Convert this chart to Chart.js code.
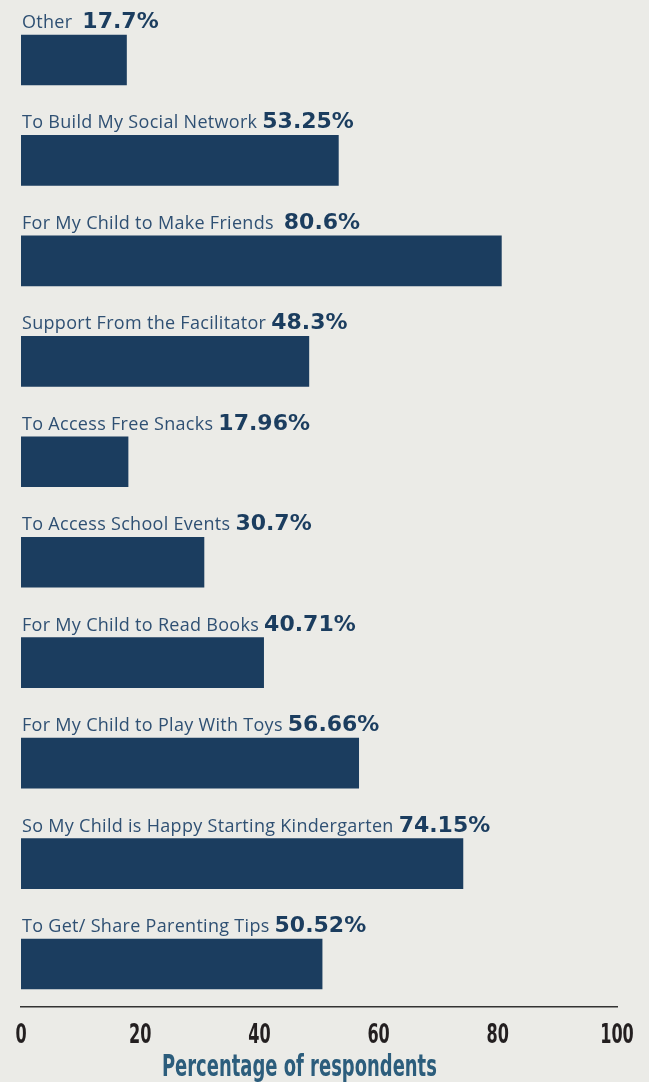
<!DOCTYPE html>
<html>
<head>
<meta charset="utf-8">
<script src="https://cdn.jsdelivr.net/npm/chart.js@4"></script>
<style>
  html, body { margin: 0; padding: 0; background: #ebebe7; }
  #wrap { width: 649px; height: 1082px; position: relative; }
</style>
</head>
<body>
<div id="wrap"><canvas id="c" width="649" height="1082"></canvas></div>
<script>
// Reasons for attending, top to bottom
const categories = [
  'Other ',
  'To Build My Social Network',
  'For My Child to Make Friends ',
  'Support From the Facilitator',
  'To Access Free Snacks',
  'To Access School Events',
  'For My Child to Read Books',
  'For My Child to Play With Toys',
  'So My Child is Happy Starting Kindergarten',
  'To Get/ Share Parenting Tips'
];
const percentLabels = ['17.7%', '53.25%', '80.6%', '48.3%', '17.96%', '30.7%', '40.71%', '56.66%', '74.15%', '50.52%'];
const values = [17.7, 53.25, 80.6, 48.3, 17.96, 30.7, 40.71, 56.66, 74.15, 50.52];
const xTicks = [0, 20, 40, 60, 80, 100];
const xTitle = 'Percentage of respondents';

const BAR = '#1b3d5f';
const CONDENSED = '"DejaVu Sans Condensed", "DejaVu Sans"';

// Category name + bold percentage written above each bar
const barLabels = {
  id: 'barLabels',
  afterDatasetsDraw(chart) {
    const ctx = chart.ctx;
    const meta = chart.getDatasetMeta(0);
    const x0 = chart.scales.x.getPixelForValue(0) + 1;
    ctx.save();
    ctx.textBaseline = 'alphabetic';
    ctx.textAlign = 'left';
    meta.data.forEach((el, i) => {
      const top = el.y - el.height / 2;
      const baseY = top - 7;
      ctx.font = '18px "Open Sans"';
      ctx.letterSpacing = '0.3px';
      ctx.fillStyle = '#2f5073';
      const txt = categories[i] + ' ';
      ctx.fillText(txt, x0, baseY);
      const w = ctx.measureText(txt).width;
      ctx.letterSpacing = '0px';
      ctx.font = 'bold 22px "DejaVu Sans"';
      ctx.fillStyle = BAR;
      ctx.fillText(percentLabels[i], x0 + w, baseY);
    });
    ctx.restore();
  }
};

// Narrow tall tick numbers and axis title under the x axis
const condensedAxis = {
  id: 'condensedAxis',
  afterDraw(chart) {
    const ctx = chart.ctx;
    const xs = chart.scales.x;
    const bottom = chart.chartArea.bottom;
    ctx.save();
    ctx.textBaseline = 'alphabetic';
    ctx.textAlign = 'center';
    ctx.font = 'bold 27px ' + CONDENSED;
    const sx = 11.2 / ctx.measureText('0').width;
    ctx.fillStyle = '#231f20';
    xs.ticks.forEach(t => {
      const px = xs.getPixelForValue(t.value);
      ctx.save();
      ctx.translate(px, bottom + 35.5);
      ctx.scale(sx, 1);
      ctx.fillText(String(t.value), 0, 0);
      ctx.restore();
    });
    ctx.font = 'bold 30px ' + CONDENSED;
    const tw = ctx.measureText(xTitle).width;
    const st = 275 / tw;
    ctx.fillStyle = '#2c5d7c';
    ctx.translate((xs.left + xs.right) / 2 - 19.6, bottom + 69);
    ctx.scale(st, 1);
    ctx.fillText(xTitle, 0, 0);
    ctx.restore();
  }
};

new Chart(document.getElementById('c'), {
  type: 'bar',
  data: {
    datasets: [{
      data: values.map((v, i) => ({ x: v, y: i })),
      backgroundColor: BAR,
      borderWidth: 0,
      barThickness: 50
    }]
  },
  options: {
    indexAxis: 'y',
    responsive: false,
    animation: false,
    layout: { padding: { left: 21, right: 32, top: 0, bottom: 75 } },
    plugins: { legend: { display: false }, tooltip: { enabled: false } },
    scales: {
      y: {
        type: 'linear',
        reverse: true,
        offset: false,
        bounds: 'data',
        min: -0.597,
        max: 9.428,
        display: false
      },
      x: {
        type: 'linear',
        min: 0,
        max: 100,
        afterBuildTicks(scale) { scale.ticks = xTicks.map(v => ({ value: v })); },
        grid: { display: false, drawTicks: false },
        border: { display: true, color: '#333333', width: 1.5 },
        ticks: { display: false },
        title: { display: false }
      }
    }
  },
  plugins: [barLabels, condensedAxis]
});
</script>
</body>
</html>
